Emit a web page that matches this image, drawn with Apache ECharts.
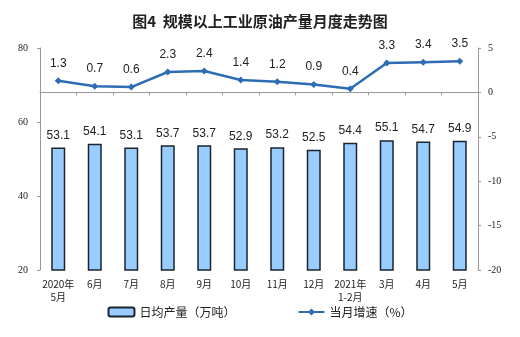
<!DOCTYPE html>
<html><head><meta charset="utf-8">
<script src="https://cdn.jsdelivr.net/npm/echarts@6/dist/echarts.min.js"></script>
<style>html,body{margin:0;padding:0;background:#fff}#c{width:520px;height:337px}</style>
</head><body><div id="c"></div>
<script>
var categories = ['2020年\n5月','6月','7月','8月','9月','10月','11月','12月','2021年\n1-2月','3月','4月','5月'];
var output = [53.1,54.1,53.1,53.7,53.7,52.9,53.2,52.5,54.4,55.1,54.7,54.9];
var growth = [1.3,0.7,0.6,2.3,2.4,1.4,1.2,0.9,0.4,3.3,3.4,3.5];
var chart = echarts.init(document.getElementById('c'));
chart.setOption({
  animation:false,
  title:{text:'图4  规模以上工业原油产量月度走势图',left:'center',top:9,
    textStyle:{fontSize:15,fontWeight:'bold',color:'#222',fontFamily:'Noto Sans CJK SC'}},
  grid:{left:40,right:42,top:48,bottom:67},
  legend:{bottom:14,itemGap:62,itemWidth:26,itemHeight:9,
    textStyle:{fontSize:12,color:'#222',fontFamily:'Noto Sans CJK SC'},
    data:[{name:'日均产量（万吨）',icon:'roundRect'},{name:'当月增速（%）'}]},
  xAxis:{type:'category',data:categories,
    axisLine:{lineStyle:{color:'#999'}},
    axisTick:{show:true,length:3,lineStyle:{color:'#999'}},
    axisLabel:{interval:0,fontSize:10,color:'#222',margin:8,lineHeight:13,fontFamily:'Noto Sans CJK SC'}},
  yAxis:[
    {type:'value',min:20,max:80,interval:20,splitLine:{show:false},
     axisLine:{show:true,lineStyle:{color:'#999'}},axisTick:{show:true,length:3,lineStyle:{color:'#999'}},
     axisLabel:{fontSize:10,color:'#222',margin:12,fontFamily:'Liberation Serif'}},
    {type:'value',min:-20,max:5,interval:5,splitLine:{show:false},
     axisLine:{show:true,lineStyle:{color:'#999'}},axisTick:{show:true,length:3,lineStyle:{color:'#999'}},
     axisLabel:{fontSize:10,color:'#222',margin:10,fontFamily:'Liberation Serif'}}
  ],
  series:[
    {name:'日均产量（万吨）',type:'bar',data:output,barWidth:14,
     itemStyle:{color:'#99CCFF',borderColor:'#1b2430',borderWidth:1.5},
     label:{show:true,position:'top',distance:6,fontSize:12,color:'#222',fontFamily:'Liberation Sans'}},
    {name:'当月增速（%）',type:'line',yAxisIndex:1,data:growth,
     symbol:'diamond',symbolSize:7,
     lineStyle:{color:'#2E6DB4',width:2.5},itemStyle:{color:'#2E6DB4'},
     label:{show:true,position:'top',distance:8,fontSize:12,color:'#222',fontFamily:'Liberation Sans'}}
  ]
});
</script></body></html>
